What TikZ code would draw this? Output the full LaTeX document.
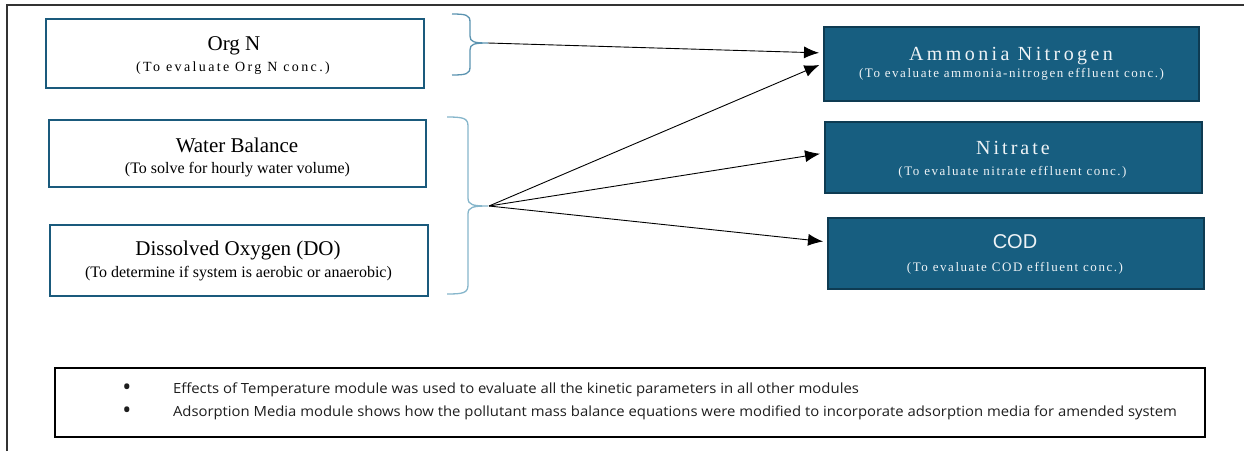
\documentclass[tikz,border=0pt]{standalone}
\usepackage{fontspec}
\usepackage{graphicx}
\setmainfont{Liberation Serif}
\newfontfamily\sansf{Liberation Sans}
\newfontfamily\notef{Open Sans}
\usetikzlibrary{arrows.meta,calc}
\definecolor{boxfill}{HTML}{175E80}
\definecolor{boxedge}{HTML}{0E3B52}
\definecolor{leftedge}{HTML}{1A5A7C}
\definecolor{braceA}{HTML}{5B93B0}
\definecolor{braceB}{HTML}{86B6CB}
\definecolor{framecol}{HTML}{333333}
\definecolor{notecol}{HTML}{1E1E1E}
\definecolor{lighttext}{HTML}{EEF3F6}
\newcommand{\fsz}[1]{\fontsize{#1pt}{#1pt}\selectfont}
\newcommand{\lsp}[1]{\addfontfeature{LetterSpace=#1}}
\begin{document}
\begin{tikzpicture}[x=1pt,y=-1pt,
  lbox/.style={draw=leftedge,line width=2.5pt,fill=white,inner sep=0pt,outer sep=0pt},
  rbox/.style={draw=boxedge,line width=2pt,fill=boxfill,inner sep=0pt,outer sep=0pt},
  nbox/.style={draw=black,line width=2.5pt,fill=white,inner sep=0pt,outer sep=0pt},
  txt/.style={inner sep=0pt,outer sep=0pt,anchor=base},
  wtxt/.style={txt,text=lighttext},
  ntxt/.style={inner sep=0pt,outer sep=0pt,anchor=base west,text=notecol},
  bul/.style={inner sep=0pt,outer sep=0pt,anchor=center,text=notecol},
  braceA/.style={draw=braceA,line width=1.3pt},
  braceB/.style={draw=braceB,line width=1.3pt},
  arr/.style={draw=black,line width=0.9pt,-{Latex[length=15pt,width=12pt]},shorten >=5pt},
]
\useasboundingbox (0,0) rectangle (1248,451);
\draw[framecol,line width=1.5pt] (7,451) -- (7,5) -- (1244,5);

% left boxes
\node[lbox,minimum width=378pt,minimum height=69pt] (orgn) at (235,53.5) {};
\node[lbox,minimum width=377pt,minimum height=67pt] (water) at (237.5,153.5) {};
\node[lbox,minimum width=378pt,minimum height=71pt] (do) at (239,260.5) {};

\node[txt] (orgnT) at (234,50) {\fsz{21}Org N};
\node[txt] (orgnS) at (233,71) {\fsz{14}\lsp{17}(To evaluate Org N conc.)};
\node[txt] (waterT) at (237,152) {\fsz{21}Water Balance};
\node[txt] (waterS) at (237.5,173) {\fsz{16}(To solve for hourly water volume)};
\node[txt] (doT) at (238,255) {\fsz{21}Dissolved Oxygen (DO)};
\node[txt] (doS) at (238.5,277) {\fsz{16}(To determine if system is aerobic or anaerobic)};

% right boxes
\node[rbox,minimum width=375pt,minimum height=74pt] (amm) at (1011.5,64) {};
\node[rbox,minimum width=377pt,minimum height=71pt] (nit) at (1013.5,157.5) {};
\node[rbox,minimum width=376pt,minimum height=71pt] (cod) at (1016,253.5) {};

\node[wtxt] (ammT) at (1011,60) {\fsz{20}\lsp{17}Ammonia Nitrogen};
\node[wtxt] (ammS) at (1011.5,77) {\fsz{13}\lsp{12}(To evaluate ammonia-nitrogen effluent conc.)};
\node[wtxt] (nitT) at (1013,154) {\fsz{20}\lsp{15}Nitrate};
\node[wtxt] (nitS) at (1012.5,175) {\fsz{13}\lsp{12}(To evaluate nitrate effluent conc.)};
\node[wtxt] (codT) at (1015,248) {\sansf\fsz{20}COD};
\node[wtxt] (codS) at (1015,271) {\fsz{13}\lsp{12}(To evaluate COD effluent conc.)};

% braces
\draw[braceA] (452,14) .. controls (466,14) and (470,15) .. (470,22) -- (470,36)
  .. controls (470,42) and (474,43) .. (488,43)
  .. controls (474,43) and (470,44) .. (470,50) -- (470,67)
  .. controls (470,74) and (466,75) .. (452,75);
\draw[braceB] (447,117) .. controls (463,117) and (468,118) .. (468,126) -- (468,198)
  .. controls (468,205) and (473,206) .. (488,206)
  .. controls (473,206) and (468,207) .. (468,214) -- (468,285)
  .. controls (468,293) and (463,294) .. (447,294);
\coordinate (b1) at (488,43);
\coordinate (b2) at (489,206);

% arrows
\draw[arr] (b1) -- ([yshift=11pt]amm.west);
\draw[arr] (b2) -- ([yshift=1pt]amm.west);
\draw[arr] (b2) -- ([yshift=4.5pt]nit.west);
\draw[arr] (b2) -- ([yshift=11.5pt]cod.west);

% note box
\node[nbox,minimum width=1150pt,minimum height=69pt] (note) at (630,402.5) {};
\node[bul] (bul1) at (127,389.5) {\notef\fsz{24}•};
\node[bul] (bul2) at (127,412.5) {\notef\fsz{24}•};
\node[ntxt] (line1) at (173,393.5) {\resizebox{686pt}{\height}{\notef\fsz{14}Effects of Temperature module was used to evaluate all the kinetic parameters in all other modules}};
\node[ntxt] (line2) at (173,416.5) {\resizebox{1004pt}{\height}{\notef\fsz{14}Adsorption Media module shows how the pollutant mass balance equations were modified to incorporate adsorption media for amended system}};
\end{tikzpicture}
\end{document}
